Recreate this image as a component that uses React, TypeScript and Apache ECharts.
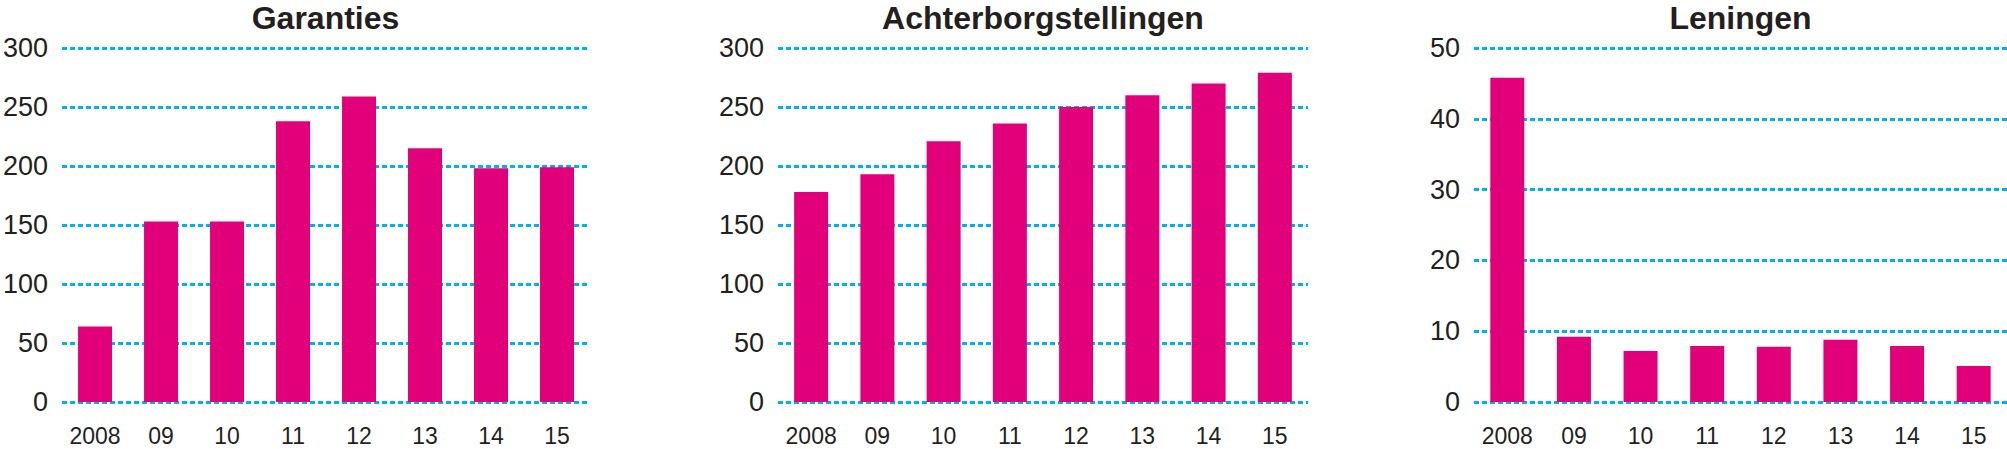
import React, { useEffect, useRef } from "react";
import * as echarts from "echarts";

const years = ["2008", "09", "10", "11", "12", "13", "14", "15"];
const garanties = [64, 153, 153, 238, 259, 215, 198, 199];
const achterborgstellingen = [178, 193, 221, 236, 250, 260, 270, 279];
const leningen = [45.8, 9.2, 7.2, 7.9, 7.8, 8.8, 7.9, 5.1];
const titles = ["Garanties", "Achterborgstellingen", "Leningen"];
const yMax = [300, 300, 50];
const yInterval = [50, 50, 10];

const BAR = "#E2007A";
const GRIDC = "#00AEEF";
const TXT = "#231F20";
const FONT = "'Liberation Sans', Arial, Helvetica, sans-serif";

const grids = [
  { left: 61, width: 529 },
  { left: 778, width: 530 },
  { left: 1474, width: 533 },
];

export default function App() {
  const ref = useRef<HTMLDivElement>(null);
  useEffect(() => {
    if (!ref.current) return;
    const chart = echarts.init(ref.current, undefined, { renderer: "svg" });
    const seriesData = [garanties, achterborgstellingen, leningen];
    chart.setOption({
      animation: false,
      backgroundColor: "#ffffff",
      title: titles.map((t, i) => ({
        text: t,
        left: grids[i].left + grids[i].width / 2,
        textAlign: "center",
        top: 2,
        padding: 0,
        textStyle: { fontFamily: FONT, fontSize: 32, fontWeight: "bold", color: TXT },
      })),
      grid: grids.map((g) => ({ left: g.left, width: g.width, top: 48, bottom: 47, containLabel: false })),
      xAxis: grids.map((_, i) => ({
        type: "category",
        gridIndex: i,
        data: years,
        axisLine: { show: false },
        axisTick: { show: false },
        axisLabel: { fontFamily: FONT, fontSize: 23, color: TXT, margin: 22, interval: 0 },
      })),
      yAxis: grids.map((_, i) => ({
        type: "value",
        gridIndex: i,
        min: 0,
        max: yMax[i],
        interval: yInterval[i],
        axisLine: { show: false },
        axisTick: { show: false },
        axisLabel: { fontFamily: FONT, fontSize: 27, color: TXT, margin: 14 },
        splitLine: { show: true, lineStyle: { color: GRIDC, width: 3, type: [5, 3] } },
      })),
      series: seriesData.map((d, i) => ({
        type: "bar",
        xAxisIndex: i,
        yAxisIndex: i,
        data: d,
        barWidth: 34,
        itemStyle: { color: BAR },
      })),
    });
    return () => chart.dispose();
  }, []);
  return (
    <div
      ref={ref}
      style={{ position: "absolute", left: 0, top: 0, width: 2007, height: 449 }}
    />
  );
}
